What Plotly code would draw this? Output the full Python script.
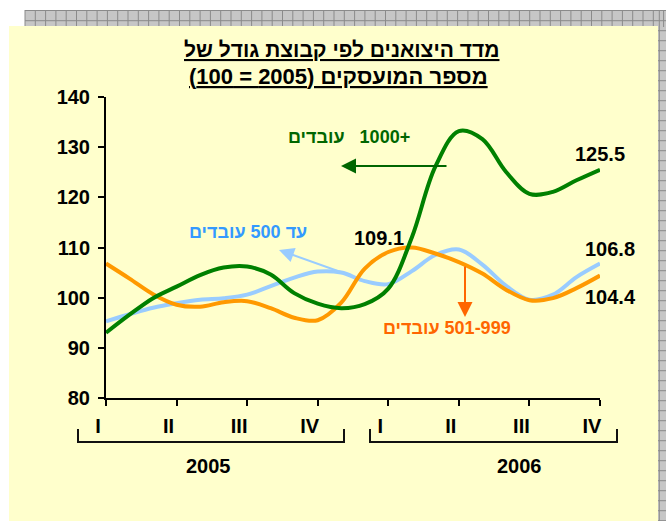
import numpy as np
import plotly.graph_objects as go

# ---------------- data ----------------
quarter_labels = ["I", "II", "III", "IV", "I", "II", "III", "IV"]
year_labels = ["2005", "2006"]

# monthly readings (3 per quarter), from Q1-2005 to Q4-2006
green_1000 = [93.0, 96.6, 99.9, 102.2, 104.5, 106.0, 106.2, 104.6, 100.9, 98.8, 97.9,
              98.7, 101.8, 112.0, 126.1, 133.2, 131.6, 125.1, 120.7, 121.1, 123.4, 125.5]
blue_500 = [95.3, 96.7, 98.0, 98.9, 99.6, 99.9, 100.6, 102.3, 104.0, 105.2, 105.0,
            103.3, 102.7, 105.3, 108.5, 109.6, 106.6, 102.4, 99.6, 100.6, 104.1, 106.8]
orange_501_999 = [106.8, 103.8, 100.7, 98.6, 98.2, 99.1, 99.3, 97.9, 96.0, 95.5, 99.0,
                  105.8, 109.1, 110.0, 108.8, 107.1, 104.8, 101.6, 99.5, 99.9, 101.9, 104.4]

title_line1 = "מדד היצואנים לפי קבוצת גודל של"
title_line2 = "מספר המועסקים (2005 = 100)"
label_green = "+1000\u00a0\u00a0\u00a0עובדים"
label_blue = "עד 500 עובדים"
label_orange = "501-999 עובדים"

x_month = np.arange(len(green_1000)) / 3.0

# ---------------- layout geometry ----------------
WIDTH, HEIGHT = 666, 521
L, R, T, B = 106, 66, 97, 123
PW, PH = WIDTH - L - R, HEIGHT - T - B
FONT = "Arial, 'Liberation Sans', sans-serif"


def rtl(s):
    return "\u202B" + s + "\u202C"


def px(xp):
    return (xp - L) / PW


def py(yp):
    return (T + PH - yp) / PH


fig = go.Figure()

line_w = 4
fig.add_trace(go.Scatter(x=x_month, y=blue_500, mode="lines",
                         line=dict(color="#99CCFF", width=line_w, shape="spline", smoothing=1.0),
                         hoverinfo="skip", showlegend=False))
fig.add_trace(go.Scatter(x=x_month, y=orange_501_999, mode="lines",
                         line=dict(color="#FF9900", width=line_w, shape="spline", smoothing=1.0),
                         hoverinfo="skip", showlegend=False))
fig.add_trace(go.Scatter(x=x_month, y=green_1000, mode="lines",
                         line=dict(color="#008000", width=line_w, shape="spline", smoothing=1.0),
                         hoverinfo="skip", showlegend=False))

# ---------------- background shapes ----------------
shapes = []
# gray patterned frame (top strip + right strip)
shapes.append(dict(type="rect", xref="paper", yref="paper", layer="below",
                   x0=px(25), x1=px(666), y0=py(10), y1=py(30),
                   fillcolor="#C6C6C6", line=dict(width=0)))
shapes.append(dict(type="rect", xref="paper", yref="paper", layer="below",
                   x0=px(650), x1=px(666), y0=py(10), y1=py(521),
                   fillcolor="#C6C6C6", line=dict(width=0)))
path = []
xg = 25.0
while xg <= 666:
    path.append(f"M{px(xg)},{py(10)} L{px(xg)},{py(27)}")
    xg += 10.3
for yg in [10.5, 20.7]:
    path.append(f"M{px(25)},{py(yg)} L{px(666)},{py(yg)}")
yg = 30.7
while yg <= 521:
    path.append(f"M{px(658)},{py(yg)} L{px(666)},{py(yg)}")
    yg += 10.0
path.append(f"M{px(659.3)},{py(10)} L{px(659.3)},{py(521)}")
shapes.append(dict(type="path", xref="paper", yref="paper", layer="below",
                   path=" ".join(path), line=dict(color="#8A8A8A", width=1)))
# yellow panel
shapes.append(dict(type="rect", xref="paper", yref="paper", layer="below",
                   x0=px(9), x1=px(658), y0=py(26), y1=py(530),
                   fillcolor="#FFFFCC", line=dict(width=0)))

# year brackets
for (xa, xb) in [(78, 344), (370, 617)]:
    shapes.append(dict(type="path", xref="paper", yref="paper",
                       path=f"M{px(xa)},{py(429)} L{px(xa)},{py(442)} L{px(xb)},{py(442)} L{px(xb)},{py(429)}",
                       line=dict(color="#111111", width=2)))

annotations = []
bold20 = dict(family=FONT, size=20, color="black", weight="bold")
bold21 = dict(family=FONT, size=21, color="black", weight="bold")
bold22 = dict(family=FONT, size=22, color="black", weight="bold")

# title
annotations.append(dict(xref="paper", yref="paper", x=px(341), y=py(49), showarrow=False,
                        text="<u>" + rtl(title_line1) + "</u>", xanchor="center", yanchor="middle",
                        font=bold21))
annotations.append(dict(xref="paper", yref="paper", x=px(338), y=py(76), showarrow=False,
                        text="<u>" + rtl(title_line2) + "</u>", xanchor="center", yanchor="middle",
                        font=bold22))

# year labels
for yl, xc in zip(year_labels, [208, 519]):
    annotations.append(dict(xref="paper", yref="paper", x=px(xc), y=py(466), showarrow=False,
                            text=yl, xanchor="center", yanchor="middle", font=bold20))

# series labels
annotations.append(dict(xref="paper", yref="paper", x=px(349), y=py(137), showarrow=False,
                        text=rtl(label_green), xanchor="center", yanchor="middle",
                        font=dict(family=FONT, size=18, color="#006600", weight="bold")))
annotations.append(dict(xref="paper", yref="paper", x=px(248), y=py(232), showarrow=False,
                        text=rtl(label_blue), xanchor="center", yanchor="middle",
                        font=dict(family=FONT, size=18, color="#3399FF", weight="bold")))
annotations.append(dict(xref="paper", yref="paper", x=px(447), y=py(328), showarrow=False,
                        text=rtl(label_orange), xanchor="center", yanchor="middle",
                        font=dict(family=FONT, size=18, color="#FF6600", weight="bold")))

# arrows
arrow_common = dict(xref="paper", yref="paper", text="", showarrow=True, arrowhead=2,
                    arrowsize=1.5, arrowwidth=2, standoff=0, startstandoff=0)
annotations.append(dict(x=px(341), y=py(166), ax=107, ay=0, arrowcolor="#006600", **arrow_common))
annotations.append(dict(x=px(279), y=py(250), ax=73, ay=26, arrowcolor="#99CCFF", **arrow_common))
annotations.append(dict(x=px(465), y=py(317), ax=0, ay=-52, arrowcolor="#FF6600", **arrow_common))

# value labels tied to the data
annotations.append(dict(x=x_month[-1], y=green_1000[-1], xref="x", yref="y", showarrow=False,
                        text=f"{green_1000[-1]:.1f}", yshift=16, xshift=0, font=bold20))
annotations.append(dict(x=x_month[-1], y=blue_500[-1], xref="x", yref="y", showarrow=False,
                        text=f"{blue_500[-1]:.1f}", yshift=15, xshift=10, font=bold20))
annotations.append(dict(x=x_month[-1], y=orange_501_999[-1], xref="x", yref="y", showarrow=False,
                        text=f"{orange_501_999[-1]:.1f}", yshift=-21, xshift=10, font=bold20))
annotations.append(dict(x=x_month[12], y=orange_501_999[12], xref="x", yref="y", showarrow=False,
                        text=f"{orange_501_999[12]:.1f}", yshift=14, xshift=-9, font=bold20))

fig.update_layout(
    width=WIDTH, height=HEIGHT,
    margin=dict(l=L, r=R, t=T, b=B, pad=0),
    paper_bgcolor="white",
    plot_bgcolor="rgba(0,0,0,0)",
    font=dict(family=FONT, size=20, color="black"),
    shapes=shapes,
    annotations=annotations,
    showlegend=False,
    xaxis=dict(range=[0, 7], tickmode="array", tickvals=list(range(8)), ticktext=quarter_labels,
               showline=True, linecolor="black", linewidth=2, ticks="outside", ticklen=6,
               tickwidth=2, tickcolor="black", showgrid=False, zeroline=False,
               tickfont=bold20, ticklabelshift=-8, ticklabelstandoff=3, fixedrange=True),
    yaxis=dict(range=[80, 140], dtick=10, tick0=80,
               showline=True, linecolor="black", linewidth=2, ticks="outside", ticklen=6,
               tickwidth=2, tickcolor="black", showgrid=False, zeroline=False,
               tickfont=bold20, ticklabelstandoff=4, fixedrange=True),
)

fig.write_html("out.html", config={"displayModeBar": False},
               post_script="document.body.style.margin='0';document.body.style.overflow='hidden';")
